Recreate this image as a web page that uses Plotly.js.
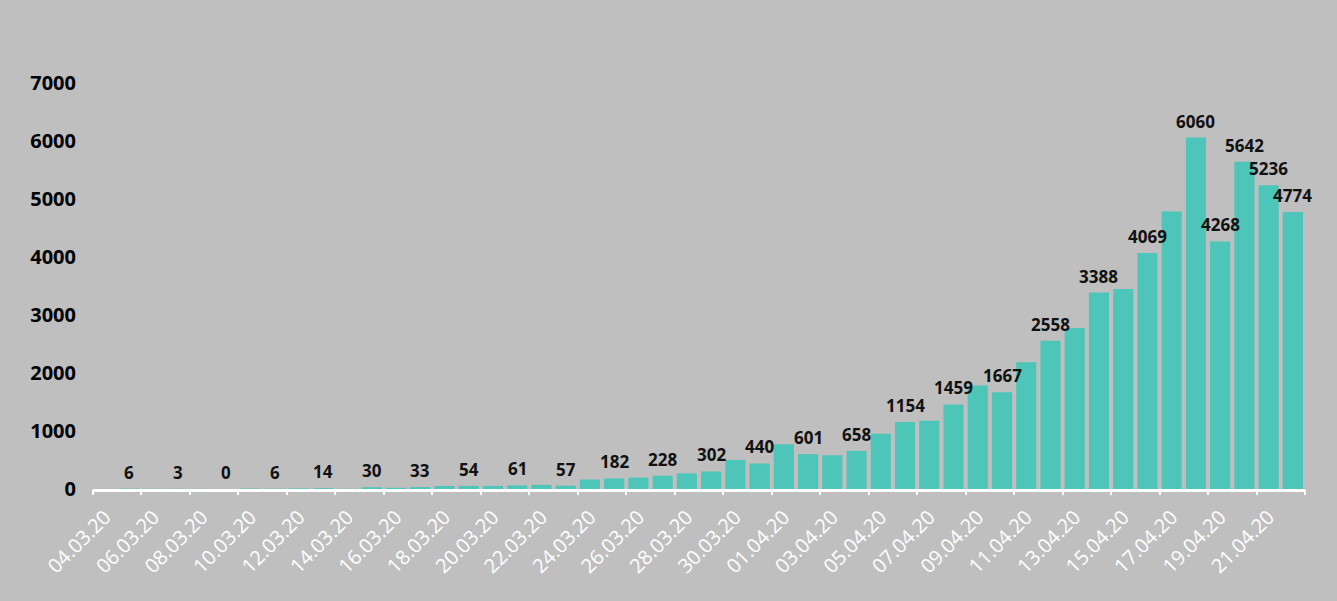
<!DOCTYPE html>
<html>
<head>
<meta charset="utf-8">
<script src="https://cdn.plot.ly/plotly-3.0.1.min.js"></script>
<style>
  html, body { margin: 0; padding: 0; background: #bfbfbf; }
  #chart { width: 1337px; height: 601px; }
</style>
</head>
<body>
<div id="chart"></div>
<script>
// ---- data ----
const dates = [
  "04.03.20","05.03.20","06.03.20","07.03.20","08.03.20","09.03.20","10.03.20","11.03.20","12.03.20","13.03.20",
  "14.03.20","15.03.20","16.03.20","17.03.20","18.03.20","19.03.20","20.03.20","21.03.20","22.03.20","23.03.20",
  "24.03.20","25.03.20","26.03.20","27.03.20","28.03.20","29.03.20","30.03.20","31.03.20","01.04.20","02.04.20",
  "03.04.20","04.04.20","05.04.20","06.04.20","07.04.20","08.04.20","09.04.20","10.04.20","11.04.20","12.04.20",
  "13.04.20","14.04.20","15.04.20","16.04.20","17.04.20","18.04.20","19.04.20","20.04.20","21.04.20","22.04.20"
];
const cases = [
  1, 6, 4, 3, 2, 0, 8, 6, 11, 14,
  4, 30, 21, 33, 52, 54, 53, 61, 71, 57,
  163, 182, 196, 228, 270, 302, 501, 440, 771, 601,
  582, 658, 954, 1154, 1175, 1459, 1786, 1667, 2186, 2558,
  2774, 3388, 3448, 4069, 4785, 6060, 4268, 5642, 5236, 4774
];
const valueLabels = [
  "", "6", "", "3", "", "0", "", "6", "", "14",
  "", "30", "", "33", "", "54", "", "61", "", "57",
  "", "182", "", "228", "", "302", "", "440", "", "601",
  "", "658", "", "1154", "", "1459", "", "1667", "", "2558",
  "", "3388", "", "4069", "", "6060", "4268", "5642", "5236", "4774"
];
const tickDates = dates.filter((d, i) => i % 2 === 0);
const yTicks = [0, 1000, 2000, 3000, 4000, 5000, 6000, 7000];

// ---- styling ----
const BG = "#bfbfbf";
const BAR = "#4ec5b9";
const FONT = "Open Sans, DejaVu Sans, sans-serif";

const boundaryTicks = [];
for (let i = 0; i <= dates.length; i += 2) boundaryTicks.push(i - 0.5);

const annotations = [];
dates.forEach((d, i) => {
  if (valueLabels[i] !== "") {
    annotations.push({
      x: d, y: cases[i], xref: "x", yref: "y",
      text: valueLabels[i], showarrow: false,
      yanchor: "bottom", xanchor: "center", yshift: 3,
      font: { family: FONT, size: 17, color: "#111", weight: "bold" }
    });
  }
});

const traces = [
  {
    type: "bar", x: dates, y: cases,
    marker: { color: BAR },
    hoverinfo: "x+y"
  },
  {
    type: "scatter", mode: "markers", xaxis: "x2", yaxis: "y",
    x: [-0.5, dates.length - 0.5], y: [0, 0],
    marker: { opacity: 0 }, hoverinfo: "skip", showlegend: false
  }
];

const layout = {
  width: 1337, height: 601,
  paper_bgcolor: BG, plot_bgcolor: BG,
  margin: { l: 93, r: 32, t: 83, b: 112 },
  showlegend: false,
  bargap: 0.17,
  font: { family: FONT },
  xaxis: {
    type: "category",
    range: [-0.5, dates.length - 0.5],
    tickmode: "array", tickvals: tickDates, ticktext: tickDates,
    tickangle: -45,
    tickfont: { family: FONT, size: 20, color: "#ffffff" },
    ticks: "", ticklabelstandoff: 6,
    showline: true, linecolor: "#ffffff", linewidth: 2.5,
    showgrid: false, zeroline: false, fixedrange: true
  },
  xaxis2: {
    overlaying: "x", anchor: "y", side: "bottom",
    range: [-0.5, dates.length - 0.5],
    tickmode: "array", tickvals: boundaryTicks,
    ticks: "outside", ticklen: 5, tickwidth: 2, tickcolor: "#ffffff",
    showticklabels: false, showgrid: false, zeroline: false, showline: false,
    fixedrange: true
  },
  yaxis: {
    range: [0, 7000],
    tickmode: "array", tickvals: yTicks, ticktext: yTicks.map(String),
    tickfont: { family: FONT, size: 20, color: "#000000", weight: "bold" },
    ticks: "", ticklabelstandoff: 16,
    showgrid: false, zeroline: false, showline: false, fixedrange: true
  },
  annotations: annotations
};

Plotly.newPlot("chart", traces, layout, { displayModeBar: false, staticPlot: true });
</script>
</body>
</html>
